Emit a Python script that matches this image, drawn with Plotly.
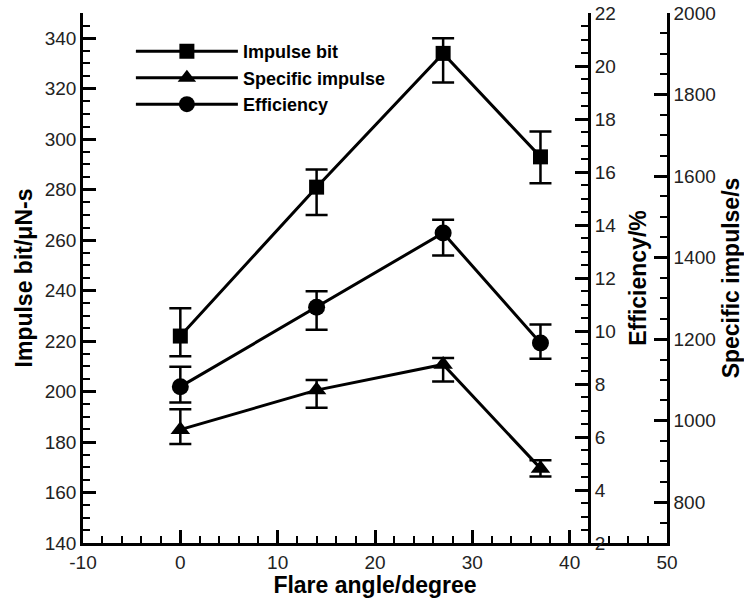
import plotly.graph_objects as go

# ---- data ----
flare_angle = [0, 14, 27, 37]

impulse_bit = [222, 281, 334, 293]
impulse_err_plus = [11, 7, 6, 10]
impulse_err_minus = [8, 11, 11.5, 10.5]

specific_impulse = [978, 1075, 1138, 883]
isp_err_plus = [50, 25, 16, 20]
isp_err_minus = [35, 43, 42, 20]

efficiency = [7.9, 10.9, 13.7, 9.55]
eff_err_plus = [0.75, 0.6, 0.5, 0.7]
eff_err_minus = [0.6, 0.85, 0.85, 0.6]

x_tick_vals = [-10, 0, 10, 20, 30, 40, 50]
x_tick_text = ["-10", "0", "10", "20", "30", "40", "50"]

FONT = "Liberation Sans, Arial, sans-serif"
BLACK = "#000000"

def err(plus, minus):
    return dict(type="data", symmetric=False, array=plus, arrayminus=minus,
                color=BLACK, thickness=2.5, width=11)

fig = go.Figure()
fig.add_trace(go.Scatter(
    x=flare_angle, y=impulse_bit, name="Impulse bit", mode="lines+markers",
    line=dict(color=BLACK, width=3),
    marker=dict(symbol="square", size=15, color=BLACK),
    error_y=err(impulse_err_plus, impulse_err_minus), yaxis="y"))
fig.add_trace(go.Scatter(
    x=flare_angle, y=specific_impulse, name="Specific impulse", mode="lines+markers",
    line=dict(color=BLACK, width=3),
    marker=dict(symbol="triangle-up", size=17, color=BLACK),
    error_y=err(isp_err_plus, isp_err_minus), yaxis="y3"))
fig.add_trace(go.Scatter(
    x=flare_angle, y=efficiency, name="Efficiency", mode="lines+markers",
    line=dict(color=BLACK, width=3),
    marker=dict(symbol="circle", size=17, color=BLACK),
    error_y=err(eff_err_plus, eff_err_minus), yaxis="y2"))

tickfont = dict(family=FONT, size=19, color="#222222")
titlefont = dict(family=FONT, size=23, color=BLACK, weight="bold")

common = dict(showline=True, linecolor=BLACK, linewidth=2.5, ticks="inside",
              ticklen=13, tickwidth=2.5, tickcolor=BLACK, showgrid=False,
              zeroline=False, tickfont=tickfont, automargin=False)

fig.update_layout(
    width=744, height=598,
    margin=dict(l=83, r=77, t=13, b=55),
    paper_bgcolor="white", plot_bgcolor="white",
    showlegend=True,
    legend=dict(x=0.082, y=0.962, xanchor="left", yanchor="top", itemwidth=102,
                font=dict(family=FONT, size=18, color=BLACK, weight="bold"),
                bgcolor="rgba(0,0,0,0)", tracegroupgap=0),
    xaxis=dict(range=[-10, 50], tickmode="array", tickvals=x_tick_vals, ticktext=x_tick_text,
               title=dict(text="Flare angle/degree", font=titlefont, standoff=0),
               minor=dict(dtick=2, ticklen=7, tickwidth=1.5, tickcolor=BLACK, ticks="inside"),
               **common),
    yaxis=dict(range=[140, 350], dtick=20, tick0=140,
               title=dict(text="Impulse bit/μN-s", font=titlefont, standoff=6),
               minor=dict(dtick=5, ticklen=7, tickwidth=1.5, tickcolor=BLACK, ticks="inside"),
               **common),
    yaxis2=dict(range=[2, 22], dtick=2, tick0=2, overlaying="y", side="right",
                anchor="free", position=52/60,
                title=dict(text="Efficiency/%", font=titlefont, standoff=14),
                minor=dict(dtick=0.5, ticklen=7, tickwidth=1.5, tickcolor=BLACK, ticks="inside"),
                **common),
    yaxis3=dict(range=[700, 2000], dtick=200, tick0=0, overlaying="y", side="right",
                anchor="x",
                title=dict(text="Specific impulse/s", font=titlefont, standoff=13),
                minor=dict(dtick=50, ticklen=7, tickwidth=1.5, tickcolor=BLACK, ticks="inside"),
                **common),
)

fig.write_html("out.html")
